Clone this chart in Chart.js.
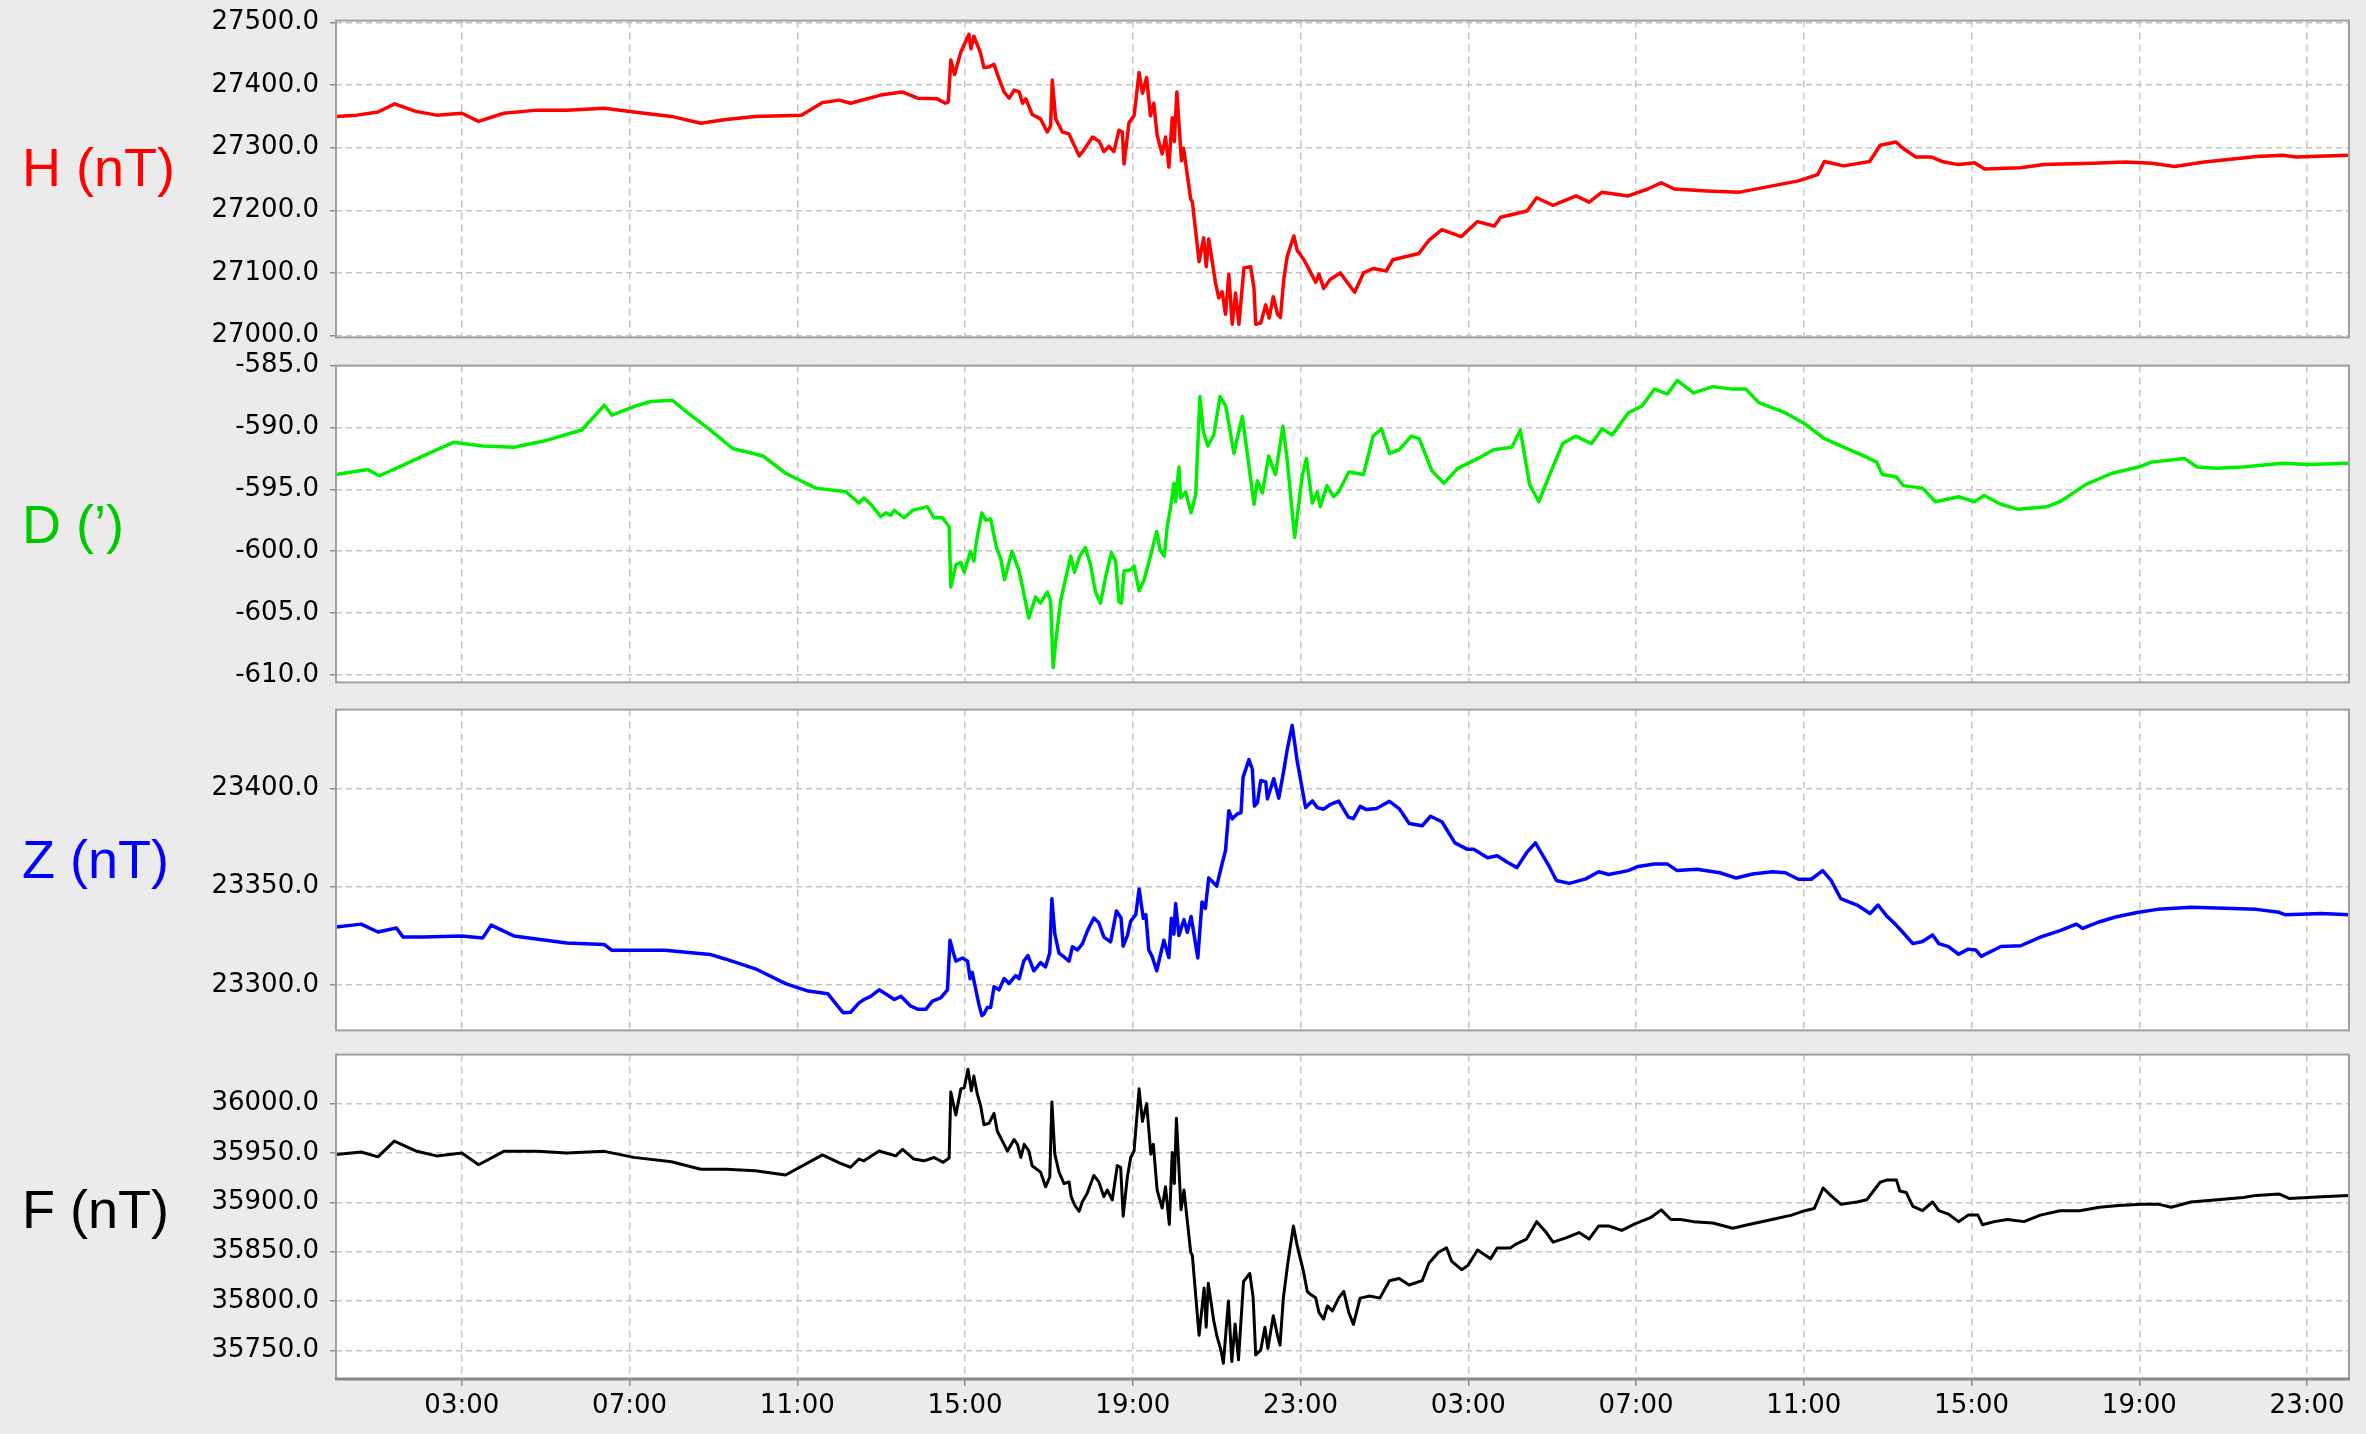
<!DOCTYPE html>
<html>
<head>
<meta charset="utf-8">
<title>Magnetometer H D Z F</title>
<script src="https://cdn.jsdelivr.net/npm/chart.js@4.4.1/dist/chart.umd.min.js"></script>
<style>
  html, body { margin: 0; padding: 0; background: #ebebeb; }
  #wrap { position: relative; width: 2366px; height: 1434px; overflow: hidden; }
  #wrap canvas { position: absolute; left: 0; }
</style>
</head>
<body>
<div id="wrap">
  <canvas id="chartH"></canvas>
  <canvas id="chartD"></canvas>
  <canvas id="chartZ"></canvas>
  <canvas id="chartF"></canvas>
</div>
<script>
// ============================================
// DATA (hours since start of day 1)
// ============================================
const xTicks = [3, 7, 11, 15, 19, 23, 27, 31, 35, 39, 43, 47];

const hTicks = [27000, 27100, 27200, 27300, 27400, 27500];
const dTicks = [-610, -605, -600, -595, -590, -585];
const zTicks = [23300, 23350, 23400];
const fTicks = [35750, 35800, 35850, 35900, 35950, 36000];

const hHours = [0, 0.5, 1.0, 1.4, 1.9, 2.4, 3.0, 3.4, 4.0, 4.8, 5.5, 6.4, 7.1, 8.0, 8.7, 9.3, 10.0, 11.1, 11.6, 12.0,
  12.27, 12.99, 13.5, 13.87, 14.34, 14.53, 14.6, 14.66, 14.75, 14.9, 15.09, 15.14, 15.21, 15.37, 15.45, 15.57, 15.69,
  15.81, 15.93, 16.05, 16.17, 16.29, 16.37, 16.45, 16.6, 16.8, 16.96, 17.04, 17.08, 17.16, 17.32, 17.48, 17.56, 17.72,
  17.84, 18.04, 18.2, 18.31, 18.43, 18.55, 18.67, 18.75, 18.79, 18.91, 19.03, 19.15, 19.23, 19.33, 19.42, 19.5, 19.58,
  19.7, 19.78, 19.86, 19.94, 19.99, 20.05, 20.16, 20.21, 20.38, 20.42, 20.58, 20.69, 20.75, 20.81, 20.97, 21.05, 21.13,
  21.21, 21.29, 21.37, 21.45, 21.53, 21.65, 21.81, 21.89, 21.93, 22.05, 22.17, 22.25, 22.35, 22.45, 22.52, 22.6, 22.68,
  22.84, 22.92, 23.08, 23.2, 23.36, 23.44, 23.55, 23.71, 23.95, 24.1, 24.29, 24.5, 24.73, 25.04, 25.2, 25.82, 26.06,
  26.37, 26.83, 27.22, 27.62, 27.77, 28.4, 28.63, 29.02, 29.57, 29.88, 30.19, 30.81, 31.28, 31.6, 31.91, 32.69, 33.47,
  34.09, 34.87, 35.33, 35.49, 35.95, 36.57, 36.82, 37.2, 37.35, 37.67, 38.05, 38.29, 38.69, 39.07, 39.31, 40.17, 40.72,
  41.89, 42.67, 43.3, 43.84, 44.55, 45.8, 46.42, 46.74, 48.0];
const hValues = [27350, 27352, 27357, 27370, 27358, 27352, 27355, 27342, 27355, 27360, 27360, 27363, 27357, 27350, 27339,
  27345, 27350, 27352, 27372, 27376,
  27371, 27384, 27389, 27379, 27378, 27371, 27373, 27440, 27417, 27453, 27481, 27458, 27478, 27451, 27428, 27429, 27433,
  27410, 27389, 27379, 27392, 27389, 27371, 27378, 27353, 27346, 27325, 27335, 27408, 27346, 27325, 27322, 27310, 27287,
  27297, 27317, 27310, 27294, 27302, 27294, 27328, 27325, 27274, 27340, 27351, 27420, 27387, 27412, 27351, 27371, 27320,
  27290, 27317, 27269, 27348, 27310, 27389, 27279, 27299, 27218, 27213, 27118, 27156, 27110, 27154, 27085, 27060, 27070,
  27034, 27098, 27018, 27068, 27018, 27108, 27110, 27075, 27018, 27020, 27049, 27028, 27062, 27034, 27029, 27090, 27126,
  27159, 27136, 27121, 27106, 27085, 27098, 27075, 27090, 27100, 27086, 27069, 27100, 27107, 27103, 27121, 27131, 27152,
  27169, 27158, 27182, 27175, 27189, 27199, 27220, 27208, 27223, 27213, 27229, 27223, 27234, 27244, 27234, 27231, 27229,
  27237, 27247, 27257, 27278, 27271, 27278, 27304, 27309, 27300, 27285, 27285, 27278, 27273, 27276, 27266, 27268, 27273,
  27275, 27277, 27275, 27270, 27277, 27286, 27288, 27285, 27288];

const dHours = [0, 0.75, 1.03, 1.5, 2.08, 2.8, 3.5, 4.24, 4.96, 5.86, 6.4, 6.58, 7.12, 7.5, 8.02, 8.38, 8.92, 9.46, 10.18,
  10.72, 11.44, 12.16, 12.47, 12.59, 12.75, 12.99, 13.11, 13.23, 13.31, 13.55, 13.75, 14.1, 14.26, 14.46, 14.62, 14.66,
  14.78, 14.9, 14.98, 15.13, 15.21, 15.27, 15.4, 15.5, 15.61, 15.75, 15.85, 15.94, 16.12, 16.28, 16.37, 16.52, 16.68,
  16.8, 16.96, 17.04, 17.1, 17.16, 17.28, 17.52, 17.61, 17.72, 17.87, 17.99, 18.11, 18.23, 18.35, 18.49, 18.59, 18.67,
  18.73, 18.79, 18.95, 19.03, 19.15, 19.27, 19.42, 19.57, 19.65, 19.75, 19.82, 19.9, 19.98, 20.02, 20.1, 20.14, 20.26,
  20.39, 20.5, 20.6, 20.68, 20.79, 20.93, 21.08, 21.22, 21.41, 21.61, 21.69, 21.89, 21.97, 22.09, 22.24, 22.4, 22.58,
  22.68, 22.86, 23.04, 23.14, 23.28, 23.4, 23.47, 23.63, 23.79, 23.91, 24.15, 24.5, 24.73, 24.93, 25.12, 25.35, 25.64,
  25.83, 26.13, 26.42, 26.75, 27.23, 27.6, 28.04, 28.24, 28.46, 28.68, 28.93, 29.25, 29.56, 29.94, 30.19, 30.43, 30.82,
  31.13, 31.44, 31.75, 31.98, 32.37, 32.83, 33.3, 33.62, 33.93, 34.55, 35.02, 35.49, 35.96, 36.43, 36.74, 36.87, 37.21,
  37.37, 37.83, 38.14, 38.69, 39.07, 39.3, 39.7, 40.1, 40.8, 41.11, 41.73, 42.35, 42.98, 43.29, 44.07, 44.38, 44.85,
  45.47, 46.41, 47.04, 48.0];
const dValues = [-593.8, -593.4, -593.9, -593.2, -592.3, -591.2, -591.5, -591.6, -591.1, -590.2, -588.2, -589.0, -588.3,
  -587.9, -587.8, -588.8, -590.2, -591.7, -592.3, -593.7, -594.9, -595.2, -596.1, -595.7, -596.2, -597.2, -596.9, -597.1,
  -596.7, -597.3, -596.7, -596.4, -597.3, -597.3, -598.0, -602.9, -601.1, -600.9, -601.7, -600.0, -600.8, -599.2, -596.9,
  -597.5, -597.4, -599.7, -600.6, -602.3, -600.0, -601.5, -602.9, -605.4, -603.7, -604.2, -603.3, -604.0, -609.4, -607.4,
  -604.0, -600.4, -601.7, -600.5, -599.7, -601.1, -603.3, -604.2, -602.1, -600.1, -600.8, -604.1, -604.2, -601.6, -601.5,
  -601.2, -603.2, -602.3, -600.4, -598.4, -599.9, -600.4, -598.0, -596.5, -594.5, -596.0, -593.2, -595.7, -595.2, -596.9,
  -595.4, -587.5, -590.3, -591.5, -590.6, -587.5, -588.3, -592.1, -589.1, -591.1, -596.2, -594.3, -595.3, -592.3, -593.8,
  -589.9, -592.6, -598.9, -593.9, -592.5, -596.1, -595.2, -596.4, -594.7, -595.6, -595.2, -593.6, -593.8, -590.7, -590.1,
  -592.1, -591.8, -590.7, -590.9, -593.5, -594.5, -593.3, -592.5, -591.8, -591.6, -590.2, -594.6, -596.0, -593.9, -591.3,
  -590.7, -591.3, -590.1, -590.6, -588.8, -588.3, -586.9, -587.3, -586.2, -587.2, -586.7, -586.9, -586.9, -588.0, -588.8,
  -589.7, -590.9, -591.6, -592.3, -592.8, -593.8, -594.0, -594.7, -594.9, -596.0, -595.6, -596.0, -595.5, -596.2, -596.6,
  -596.4, -596.0, -594.6, -593.7, -593.2, -592.8, -592.5, -593.2, -593.3, -593.2, -592.9, -593.0, -592.9];

const zHours = [0, 0.6, 1.0, 1.44, 1.6, 2.08, 3.0, 3.5, 3.7, 4.24, 5.5, 6.4, 6.58, 7.84, 8.92, 9.28, 10.0, 10.72, 11.26,
  11.73, 12.09, 12.27, 12.47, 12.59, 12.75, 12.95, 13.15, 13.31, 13.47, 13.7, 13.87, 14.07, 14.22, 14.42, 14.58, 14.64,
  14.7, 14.78, 14.94, 15.06, 15.12, 15.17, 15.33, 15.4, 15.45, 15.53, 15.61, 15.69, 15.81, 15.93, 16.05, 16.21, 16.29,
  16.4, 16.5, 16.64, 16.8, 16.92, 17.02, 17.07, 17.14, 17.24, 17.36, 17.48, 17.56, 17.68, 17.8, 17.92, 18.07, 18.19,
  18.31, 18.47, 18.61, 18.72, 18.77, 18.87, 18.95, 19.07, 19.15, 19.25, 19.31, 19.38, 19.46, 19.57, 19.74, 19.86, 19.92,
  19.98, 20.02, 20.1, 20.22, 20.3, 20.39, 20.55, 20.65, 20.73, 20.81, 20.93, 21.0, 21.13, 21.21, 21.29, 21.37, 21.49,
  21.58, 21.63, 21.77, 21.85, 21.9, 21.97, 22.05, 22.17, 22.21, 22.36, 22.48, 22.6, 22.68, 22.8, 22.92, 23.12, 23.28,
  23.4, 23.55, 23.71, 23.91, 24.14, 24.26, 24.42, 24.57, 24.81, 25.12, 25.35, 25.59, 25.9, 26.1, 26.37, 26.68, 26.98,
  27.13, 27.46, 27.69, 27.93, 28.16, 28.39, 28.6, 28.93, 29.1, 29.41, 29.8, 30.11, 30.35, 30.81, 31.05, 31.44, 31.75,
  31.98, 32.45, 33.0, 33.39, 33.78, 34.25, 34.56, 34.87, 35.18, 35.45, 35.65, 35.88, 36.27, 36.58, 36.77, 36.97, 37.18,
  37.37, 37.6, 37.83, 38.07, 38.22, 38.45, 38.69, 38.92, 39.1, 39.23, 39.7, 40.17, 40.64, 41.11, 41.5, 41.65, 42.04,
  42.43, 42.98, 43.44, 44.23, 44.85, 45.79, 46.33, 46.49, 47.35, 48.0];
const zValues = [23329.5, 23331, 23327, 23329, 23324.4, 23324.4, 23325, 23324, 23330.5, 23325, 23321.4, 23320.6, 23317.7,
  23317.7, 23315.6, 23313.3, 23308.3, 23300.8, 23297, 23295.6, 23286, 23286.2, 23291, 23292.7, 23294.3, 23297.6, 23295,
  23292.7, 23294.3, 23289.4, 23287.8, 23287.8, 23291.9, 23293.5, 23297.6, 23322.8, 23318, 23312.2, 23313.8, 23312.2,
  23303.3, 23306.5, 23290.2, 23284.5, 23285.3, 23288.6, 23288.6, 23299.2, 23297.6, 23303.3, 23300.9, 23304.9, 23303.3,
  23312.2, 23315, 23307.3, 23311.4, 23309.3, 23316.3, 23343.9, 23326, 23316.3, 23314.3, 23312.2, 23319.5, 23317.9,
  23321.1, 23327.7, 23334.1, 23331.7, 23324.4, 23322, 23337.7, 23334.1, 23319.8, 23325.2, 23332.5, 23335.8, 23348.8,
  23334, 23335.8, 23317.9, 23314.6, 23307.3, 23322.8, 23314, 23334, 23325.9, 23341.5, 23325.2, 23333.3, 23326.8, 23334.9,
  23313.8, 23342.3, 23339, 23354.5, 23351.9, 23350.3, 23361.8, 23368.3, 23388.6, 23384.5, 23387, 23387.6, 23405.7,
  23414.6, 23409.7, 23391, 23392.6, 23404, 23403.2, 23394.6, 23404.9, 23395, 23409, 23419.5, 23432, 23413.8, 23390.2,
  23393.6, 23390.2, 23389.4, 23391.8, 23393.5, 23385.4, 23384.6, 23390.8, 23389.2, 23389.7, 23393.4, 23389.7, 23382.1,
  23381, 23385.8, 23383, 23372.3, 23369, 23369, 23364.7, 23365.7, 23362.4, 23359.7, 23367.3, 23372.3, 23360.3, 23353.2,
  23351.7, 23354, 23357.6, 23356.2, 23358.2, 23360.3, 23361.5, 23361.5, 23358.2, 23358.9, 23357.1, 23354.4, 23356.5,
  23357.6, 23357.1, 23353.8, 23353.8, 23358.2, 23353.2, 23344, 23340.7, 23336.4, 23340.7, 23335.3, 23331, 23326.6,
  23321.1, 23322.2, 23325.5, 23321.1, 23319.6, 23315.7, 23318.3, 23317.9, 23314.6, 23319.6, 23320, 23324.4, 23327.7,
  23331, 23328.8, 23332.1, 23334.6, 23337, 23338.5, 23339.6, 23339.2, 23338.5, 23337, 23335.7, 23336.4, 23335.7];

const fHours = [0, 0.6, 1.0, 1.39, 1.9, 2.4, 3.0, 3.4, 4.0, 4.8, 5.5, 6.4, 7.1, 8.0, 8.7, 9.3, 10.0, 10.72, 11.6, 12.0,
  12.27, 12.47, 12.59, 12.95, 13.15, 13.35, 13.51, 13.78, 14.02, 14.26, 14.48, 14.62, 14.66, 14.78, 14.9, 14.98, 15.07,
  15.15, 15.21, 15.29, 15.37, 15.45, 15.57, 15.69, 15.77, 15.93, 16.01, 16.17, 16.25, 16.33, 16.41, 16.52, 16.6, 16.8,
  16.92, 17.02, 17.07, 17.14, 17.24, 17.36, 17.48, 17.53, 17.61, 17.72, 17.8, 17.91, 18.07, 18.19, 18.31, 18.39, 18.51,
  18.63, 18.71, 18.77, 18.87, 18.95, 19.03, 19.15, 19.23, 19.33, 19.43, 19.49, 19.58, 19.7, 19.78, 19.87, 19.94, 19.99,
  20.04, 20.15, 20.22, 20.38, 20.42, 20.58, 20.7, 20.75, 20.8, 20.93, 21.01, 21.1, 21.16, 21.28, 21.36, 21.44, 21.52,
  21.64, 21.79, 21.87, 21.93, 22.05, 22.15, 22.22, 22.35, 22.45, 22.51, 22.59, 22.7, 22.83, 22.92, 23.07, 23.16, 23.24,
  23.36, 23.44, 23.55, 23.64, 23.76, 23.91, 24.03, 24.15, 24.26, 24.42, 24.65, 24.89, 25.12, 25.35, 25.59, 25.9, 26.06,
  26.29, 26.48, 26.6, 26.84, 26.99, 27.22, 27.53, 27.69, 28.0, 28.16, 28.39, 28.63, 28.86, 29.02, 29.33, 29.64, 29.88,
  30.11, 30.35, 30.66, 30.97, 31.36, 31.6, 31.83, 32.06, 32.37, 32.83, 33.3, 33.77, 34.24, 34.71, 35.02, 35.25, 35.46,
  35.64, 35.88, 36.27, 36.5, 36.66, 36.82, 36.97, 37.21, 37.29, 37.44, 37.6, 37.83, 38.07, 38.22, 38.45, 38.69, 38.92,
  39.15, 39.26, 39.54, 39.86, 40.25, 40.64, 41.11, 41.58, 42.05, 42.51, 43.06, 43.45, 43.76, 44.23, 44.86, 45.48, 45.79,
  46.34, 46.57, 47.35, 48.0];
const fValues = [35948.5, 35951, 35946, 35962, 35952, 35947, 35950, 35938, 35951.6, 35951.6, 35950, 35951.6, 35945.5,
  35941, 35933.5, 35933.5, 35932, 35927.6, 35948, 35940,
  35935.5, 35943.8, 35942, 35952, 35949.4, 35947, 35953.7, 35943.8, 35942, 35945.4, 35940.5, 35944.8, 36011.6, 35988.4,
  36014.9, 36016, 36034.7, 36013, 36028, 36010, 35998, 35978.5, 35980, 35990, 35971.9, 35958.7, 35952, 35963.6, 35958.7,
  35945.4, 35958.7, 35952, 35937, 35930.6, 35915.7, 35925.6, 36001.7, 35948.7, 35930.6, 35919, 35920.6, 35905.7, 35897.5,
  35890.9, 35900.8, 35909, 35927.2, 35920.6, 35905.7, 35912.4, 35902.4, 35937.2, 35935.5, 35885.9, 35925.6, 35945.4,
  35952, 36014.9, 35981.8, 36000, 35948.7, 35958.7, 35912.4, 35894.2, 35915.7, 35877.6, 35950.4, 35919, 35985.1, 35892.5,
  35912.4, 35849.5, 35846, 35765.2, 35813.2, 35773.5, 35818, 35780, 35763.6, 35750.3, 35737, 35800, 35738.7, 35776.8,
  35740.4, 35819.8, 35828, 35803.2, 35745.4, 35750.3, 35773.5, 35752, 35785, 35765.2, 35755.3, 35803.2, 35839.6, 35876,
  35856, 35829.7, 35809.8, 35806.5, 35803.2, 35788.3, 35781.7, 35795, 35790, 35803.2, 35809.8, 35788.3, 35776.3,
  35802.9, 35805, 35802.9, 35820.6, 35822.8, 35816.2, 35820.6, 35838.3, 35849.4, 35853.8, 35840.5, 35831.7, 35836,
  35851.6, 35842.7, 35853.8, 35853.8, 35858.2, 35862.7, 35880.4, 35869.3, 35859.6, 35864, 35869.3, 35862.7, 35876,
  35876, 35871.5, 35878.2, 35884.8, 35892.3, 35882.6, 35882.6, 35880.4, 35879, 35873.7, 35878.2, 35882.6, 35887,
  35891.5, 35893.7, 35914.5, 35907, 35898.1, 35900.3, 35902.5, 35911.4, 35920.3, 35922.5, 35922.5, 35911.4, 35910,
  35895.9, 35891.5, 35900.3, 35891.5, 35888, 35880.4, 35887, 35887, 35877.3, 35880.4, 35882.6, 35880.4, 35887, 35891.5,
  35891.5, 35895, 35896.8, 35898.1, 35898.1, 35895, 35900.3, 35902.5, 35904.8, 35907, 35908.3, 35903.9, 35905.6, 35907];

// ============================================
// PANEL SETUP
// ============================================
const TICK_FONT = { family: 'DejaVu Sans', size: 26 };
const GRID_COLOR = '#c4c4c4';
const FRAME_COLOR = '#a0a0a0';

// top/bottom are the plot frame edges in page pixels, labelBase the baseline of the side label
const panels = [
  { id: 'chartH', label: 'H (nT)', labelColor: '#ff0000', lineColor: '#ff0000', lineWidth: 3.5,
    hours: hHours, values: hValues, ticks: hTicks, min: 26997, max: 27503, top: 14, bottom: 344, labelBase: 186 },
  { id: 'chartD', label: 'D (\u2019)', labelColor: '#00c800', lineColor: '#00ee00', lineWidth: 3.5,
    hours: dHours, values: dValues, ticks: dTicks, min: -610.6, max: -585, top: 359, bottom: 689, labelBase: 543 },
  { id: 'chartZ', label: 'Z (nT)', labelColor: '#0000ff', lineColor: '#0000ff', lineWidth: 3.5,
    hours: zHours, values: zValues, ticks: zTicks, min: 23277, max: 23440, top: 703, bottom: 1037, labelBase: 878 },
  { id: 'chartF', label: 'F (nT)', labelColor: '#000000', lineColor: '#000000', lineWidth: 3,
    hours: fHours, values: fValues, ticks: fTicks, min: 35721, max: 36049.6, top: 1048, bottom: 1379, labelBase: 1228 }
];

const PAGE_H = 1434;
const PAD = 20;

// white plot area, frame and the coloured label on the left
const panelFrame = {
  id: 'panelFrame',
  beforeDraw(chart) {
    const a = chart.chartArea;
    const ctx = chart.ctx;
    ctx.save();
    ctx.fillStyle = '#ffffff';
    ctx.fillRect(a.left, a.top, a.right - a.left, a.bottom - a.top);
    ctx.restore();
  },
  afterDraw(chart, args, opts) {
    const a = chart.chartArea;
    const ctx = chart.ctx;
    ctx.save();
    ctx.strokeStyle = FRAME_COLOR;
    ctx.lineWidth = 2;
    ctx.strokeRect(a.left, a.top, a.right - a.left, a.bottom - a.top);
    if (opts.last) {
      ctx.strokeStyle = '#888888';
      ctx.lineWidth = 3;
      ctx.beginPath();
      ctx.moveTo(a.left - 1, a.bottom);
      ctx.lineTo(a.right + 1, a.bottom);
      ctx.stroke();
    }
    ctx.fillStyle = opts.color;
    ctx.font = '54px "Liberation Sans", Arial, sans-serif';
    ctx.textBaseline = 'alphabetic';
    ctx.textAlign = 'left';
    ctx.fillText(opts.label, 22, opts.baseline);
    ctx.restore();
  }
};

function hourLabel(v) {
  const h = Math.round(v) % 24;
  return (h < 10 ? '0' : '') + h + ':00';
}

panels.forEach((p, i) => {
  const last = i === panels.length - 1;
  const canvas = document.getElementById(p.id);
  const canvasTop = p.top - PAD;
  const canvasH = last ? PAGE_H - canvasTop : (p.bottom - p.top) + 2 * PAD;
  canvas.width = 2366;
  canvas.height = canvasH;
  canvas.style.top = canvasTop + 'px';
  canvas.style.width = '2366px';
  canvas.style.height = canvasH + 'px';

  const points = p.hours.map((t, k) => ({ x: t, y: p.values[k] }));
  const yTickValues = p.ticks;

  new Chart(canvas.getContext('2d'), {
    type: 'line',
    data: {
      datasets: [{
        data: points,
        borderColor: p.lineColor,
        borderWidth: p.lineWidth,
        pointRadius: 0,
        tension: 0,
        fill: false,
        borderJoinStyle: 'round',
        borderCapStyle: 'round'
      }]
    },
    options: {
      responsive: false,
      animation: false,
      devicePixelRatio: 1,
      layout: { padding: { top: PAD, bottom: last ? 0 : PAD, left: 0, right: 17 } },
      plugins: {
        legend: { display: false },
        tooltip: { enabled: false },
        panelFrame: { label: p.label, color: p.labelColor, baseline: p.labelBase - canvasTop, last: last }
      },
      scales: {
        x: {
          type: 'linear',
          min: 0,
          max: 48,
          afterBuildTicks: s => { s.ticks = xTicks.map(v => ({ value: v })); },
          afterFit: s => { s.height = last ? PAGE_H - p.bottom : 0; },
          // in Chart.js v4 the grid line dash lives under border.dash
          border: { display: false, dash: [7, 5] },
          grid: {
            color: GRID_COLOR,
            lineWidth: 1.5,
            drawTicks: last,
            tickLength: 7,
            tickBorderDash: [],
            tickColor: '#8c8c8c',
            tickWidth: 1.5
          },
          ticks: {
            display: last,
            font: TICK_FONT,
            color: '#000000',
            padding: 5,
            maxRotation: 0,
            autoSkip: false,
            callback: v => hourLabel(v)
          }
        },
        y: {
          min: p.min,
          max: p.max,
          afterBuildTicks: s => { s.ticks = yTickValues.map(v => ({ value: v })); },
          afterFit: s => { s.width = 336; },
          border: { display: false, dash: [6, 4] },
          grid: {
            color: GRID_COLOR,
            lineWidth: 1.5,
            tickLength: 6,
            tickBorderDash: [],
            tickColor: '#8c8c8c',
            tickWidth: 1.5
          },
          ticks: {
            font: TICK_FONT,
            color: '#000000',
            padding: 11,
            callback: v => Number(v).toFixed(1)
          }
        }
      }
    },
    plugins: [panelFrame]
  });
  console.log('[MAG] panel ' + p.id + ' drawn');
});
</script>
</body>
</html>
